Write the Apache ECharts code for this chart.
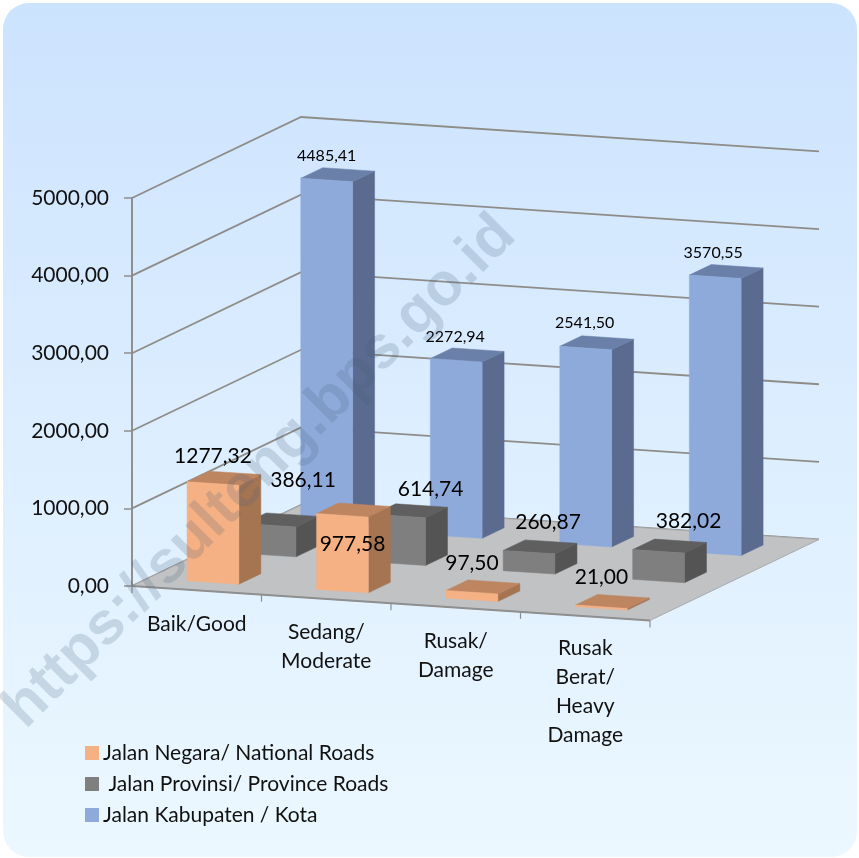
<!DOCTYPE html>
<html>
<head>
<meta charset="utf-8">
<style>html,body{margin:0;padding:0;background:#fff}#chart{width:859px;height:858px}</style>
<script src="https://cdn.jsdelivr.net/npm/echarts@6/dist/echarts.min.js"></script>
</head>
<body>
<div id="chart"></div>
<script>
// Road length by surface condition
const categories = ["Baik/Good", "Sedang/\nModerate", "Rusak/\nDamage", "Rusak\nBerat/\nHeavy\nDamage"];
const nationalRoads = [1277.32, 977.58, 97.50, 21.00];
const provinceRoads = [386.11, 614.74, 260.87, 382.02];
const regencyRoads = [4485.41, 2272.94, 2541.50, 3570.55];
const valueTicks = [0, 1000, 2000, 3000, 4000, 5000];
const seriesNames = ["Jalan Negara/ National Roads", " Jalan Provinsi/ Province Roads", "Jalan Kabupaten / Kota"];

// Oblique projection of the plot box
const FONT = "Lato, Carlito, sans-serif";
const DEPTH_X = 169, DEPTH_Y = -81, SHEAR = 0.0665;
const BAR_WIDTH = 0.4, BAR_DEPTH = 0.13;

// Label nudges from the top-front centre of each bar
const nationalShift = [[0, -27], [10, 29], [0, -29], [0, -30]];
const provinceShift = [[33, -45], [31, -27], [19, -30], [30, -30]];
const regencyShift = [[0, -24], [-1, -23], [-1, -25], [-2, -24]];

const formatValue = v => v.toFixed(2).replace('.', ',');

function project(api, cat, along, depth, value) {
  const c = api.coord([cat, value]);
  const band = api.size([1, 0])[0];
  const left = api.coord([0, 0])[0] - band / 2;
  const x = c[0] + along * band;
  return [x + depth * DEPTH_X, c[1] + SHEAR * (x - left) + depth * DEPTH_Y];
}

function poly(points, fill) {
  return { type: 'polygon', shape: { points }, style: { fill, stroke: fill, lineWidth: 0.5 } };
}

function barSeries(name, values, shifts, depth, colors, z, labelSize) {
  return {
    type: 'custom', name, z, silent: true,
    itemStyle: { color: colors.front },
    encode: { x: 0, y: 1 },
    data: values.map((v, i) => [i, v]),
    renderItem(params, api) {
      const i = api.value(0), v = api.value(1);
      const h = BAR_WIDTH / 2, d1 = depth + BAR_DEPTH;
      const fl0 = project(api, i, -h, depth, 0), fr0 = project(api, i, h, depth, 0);
      const fl = project(api, i, -h, depth, v), fr = project(api, i, h, depth, v);
      const br0 = project(api, i, h, d1, 0), br = project(api, i, h, d1, v), bl = project(api, i, -h, d1, v);
      const anchor = project(api, i, 0, depth, v);
      return {
        type: 'group',
        children: [
          poly([fr0, br0, br, fr], colors.side),
          poly([fl, fr, br, bl], colors.top),
          poly([fl0, fr0, fr, fl], colors.front),
          {
            type: 'text',
            style: {
              text: formatValue(values[i]),
              x: anchor[0] + shifts[i][0], y: anchor[1] + shifts[i][1],
              align: 'center', verticalAlign: 'middle',
              font: labelSize + 'px ' + FONT, fill: '#000'
            }
          }
        ]
      };
    }
  };
}

const option = {
  animation: false,
  backgroundColor: '#ffffff',
  graphic: [
    {
      type: 'rect', z: -10, silent: true,
      shape: { x: 3, y: 3, width: 854, height: 854, r: 26 },
      style: {
        fill: {
          type: 'linear', x: 0, y: 0, x2: 0, y2: 1,
          colorStops: [{ offset: 0, color: '#cce3fe' }, { offset: 1, color: '#ecf8ff' }]
        }
      }
    },
    {
      type: 'text', z: 100, silent: true,
      x: 260, y: 472, rotation: Math.PI / 4,
      style: {
        text: 'https://sulteng.bps.go.id',
        align: 'center', verticalAlign: 'middle',
        font: 'bold 60px "Liberation Sans", sans-serif',
        fill: 'rgba(70,95,120,0.2)'
      }
    }
  ],
  legend: {
    orient: 'vertical', left: 80, top: 736,
    itemWidth: 14, itemHeight: 14, itemGap: 7,
    icon: 'rect', selectedMode: false,
    data: seriesNames,
    textStyle: { fontFamily: FONT, fontSize: 21, color: '#111', lineHeight: 24, padding: [0, 0, 0, -1] }
  },
  grid: { left: 132, top: 198, width: 518, height: 388 },
  xAxis: {
    type: 'category', data: categories,
    axisLine: { show: false }, axisTick: { show: false },
    axisLabel: {
      interval: 0, margin: 23, color: '#111',
      formatter: (value, index) => `{g${index}|}\n` + value.split('\n').map(l => `{t|${l}}`).join('\n'),
      rich: {
        t: { fontFamily: FONT, fontSize: 21, lineHeight: 29, color: '#111' },
        g0: { lineHeight: 1, fontSize: 1 }, g1: { lineHeight: 9, fontSize: 1 },
        g2: { lineHeight: 18, fontSize: 1 }, g3: { lineHeight: 25, fontSize: 1 }
      }
    }
  },
  yAxis: {
    type: 'value', min: 0, max: 5000, interval: 1000,
    axisLine: { show: true, lineStyle: { color: '#8f8f8f', width: 2 } },
    axisTick: { show: true, length: 8, lineStyle: { color: '#8f8f8f', width: 1.5 } },
    axisLabel: { margin: 23, fontFamily: FONT, fontSize: 21, color: '#111', formatter: formatValue },
    splitLine: { show: false }
  },
  series: [
    {
      // Level lines across the side and back walls
      type: 'custom', z: 1, silent: true, encode: { y: 0 }, data: valueTicks.map(v => [v]),
      encode: { x: -1, y: 0 },
      renderItem(params, api) {
        const v = api.value(0), last = categories.length - 1;
        const a = project(api, 0, -0.5, 0, v), b = project(api, 0, -0.5, 1, v), c = project(api, last, 0.5, 1, v);
        return { type: 'polyline', shape: { points: [a, b, c] }, style: { fill: null, stroke: '#8e8c89', lineWidth: 1.8 } };
      }
    },
    {
      // Floor, front edge and category ticks
      type: 'custom', z: 2, silent: true, data: [[0, 0]], encode: { x: 0, y: 1 },
      renderItem(params, api) {
        const last = categories.length - 1;
        const a = project(api, 0, -0.5, 0, 0), b = project(api, last, 0.5, 0, 0);
        const c = project(api, last, 0.5, 1, 0), d = project(api, 0, -0.5, 1, 0);
        const children = [
          { type: 'polygon', shape: { points: [a, b, c, d] }, style: { fill: '#c0c2c4', stroke: '#a9abad', lineWidth: 1 } },
          { type: 'line', shape: { x1: a[0], y1: a[1], x2: b[0], y2: b[1] }, style: { stroke: '#8f8f8f', lineWidth: 2 } }
        ];
        categories.forEach((_, i) => {
          const p = project(api, i, 0.5, 0, 0);
          children.push({ type: 'line', shape: { x1: p[0], y1: p[1], x2: p[0], y2: p[1] + 7 }, style: { stroke: '#8f8f8f', lineWidth: 1.2 } });
        });
        children.push({ type: 'line', shape: { x1: a[0], y1: a[1], x2: a[0], y2: a[1] + 7 }, style: { stroke: '#8f8f8f', lineWidth: 1.2 } });
        return { type: 'group', children };
      }
    },
    barSeries(seriesNames[2], regencyRoads, regencyShift, 0.769, { front: '#8eaadb', side: '#5a6b8f', top: '#6a80a8' }, 3, 16),
    barSeries(seriesNames[1], provinceRoads, provinceShift, 0.434, { front: '#7f7f7f', side: '#545454', top: '#5f5f5f' }, 4, 21),
    barSeries(seriesNames[0], nationalRoads, nationalShift, 0.096, { front: '#f5b183', side: '#a57552', top: '#bd8560' }, 5, 21)
  ]
};

echarts.init(document.getElementById('chart'), null, { renderer: 'canvas' }).setOption(option);
</script>
</body>
</html>
